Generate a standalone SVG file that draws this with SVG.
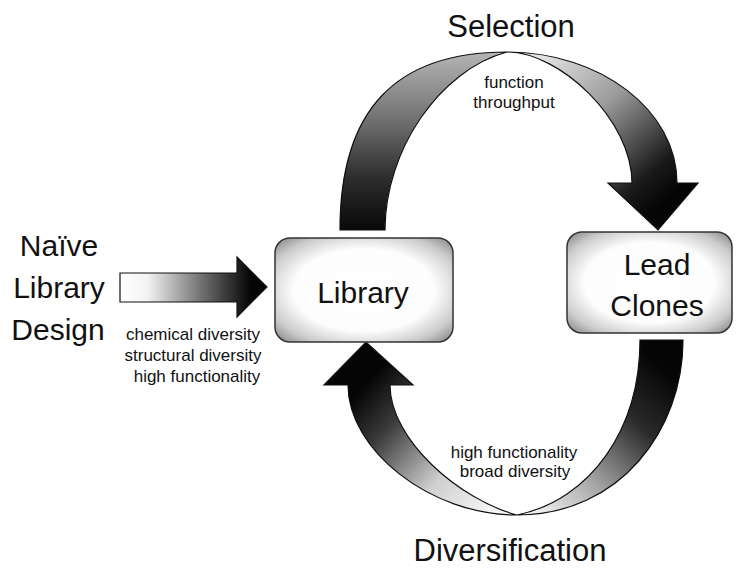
<svg xmlns="http://www.w3.org/2000/svg" width="738" height="569" viewBox="0 0 738 569">
<style>
text{font-family:"Liberation Sans",Arial,sans-serif;fill:#111;text-anchor:middle}
.big{font-size:30px}
.title{font-size:31px}
.small{font-size:17px}
.arrow{stroke:#111;stroke-width:1.2;stroke-linejoin:miter}
.box{fill:url(#boxGrad);stroke:#333;stroke-width:1.5}
</style>
<defs>
<radialGradient id="boxGrad" cx="0.5" cy="0.5" r="0.72">
<stop offset="0" stop-color="#ffffff"/>
<stop offset="0.55" stop-color="#fdfdfd"/>
<stop offset="0.78" stop-color="#cccccc"/>
<stop offset="1" stop-color="#767676"/>
</radialGradient>
<linearGradient id="hGrad" gradientUnits="userSpaceOnUse" x1="122" y1="0" x2="250" y2="0">
<stop offset="0" stop-color="#ffffff"/>
<stop offset="0.2" stop-color="#f2f2f2"/>
<stop offset="0.6" stop-color="#777"/>
<stop offset="1" stop-color="#050505"/>
</linearGradient>
<linearGradient id="selL" gradientUnits="userSpaceOnUse" x1="0" y1="230" x2="0" y2="52">
<stop offset="0" stop-color="#080808"/>
<stop offset="0.3" stop-color="#2e2e2e"/>
<stop offset="0.65" stop-color="#777777"/>
<stop offset="1" stop-color="#b4b4b4"/>
</linearGradient>
<linearGradient id="selR" gradientUnits="userSpaceOnUse" x1="525" y1="55" x2="660" y2="205">
<stop offset="0" stop-color="#eeeeee"/>
<stop offset="0.45" stop-color="#9a9a9a"/>
<stop offset="0.85" stop-color="#1a1a1a"/>
<stop offset="1" stop-color="#050505"/>
</linearGradient>
<linearGradient id="divR" gradientUnits="userSpaceOnUse" x1="665" y1="370" x2="535" y2="512">
<stop offset="0" stop-color="#050505"/>
<stop offset="0.3" stop-color="#2a2a2a"/>
<stop offset="0.7" stop-color="#aaaaaa"/>
<stop offset="1" stop-color="#f2f2f2"/>
</linearGradient>
<linearGradient id="divL" gradientUnits="userSpaceOnUse" x1="495" y1="512" x2="360" y2="390">
<stop offset="0" stop-color="#f8f8f8"/>
<stop offset="0.35" stop-color="#cfcfcf"/>
<stop offset="0.75" stop-color="#3a3a3a"/>
<stop offset="1" stop-color="#050505"/>
</linearGradient>
</defs>
<rect width="738" height="569" fill="#ffffff"/>

<g id="connectors">
<g id="arrow-design">
<path class="arrow" fill="url(#hGrad)" d="M120,273 L237,273 L237,257 L267,287 L237,317 L237,302 L120,302 Z"/>
<text class="small" x="193" y="340">chemical diversity</text>
<text class="small" x="193" y="361">structural diversity</text>
<text class="small" x="197" y="382">high functionality</text>
</g>
<g id="arrow-selection">
<path class="arrow" fill="url(#selL)" d="M340,230 C340,110 395,52 507,52 C440,70 385,150 385,230 Z"/>
<path class="arrow" fill="url(#selR)" d="M507,52 C560,52 632,120 632,183 L608,183 L658,230 L698,183 L677,183 C677,110 600,52 507,52 Z"/>
<text class="title" x="511" y="37">Selection</text>
<text class="small" x="514" y="88">function</text>
<text class="small" x="514" y="108">throughput</text>
</g>
<g id="arrow-diversification">
<path class="arrow" fill="url(#divR)" d="M640,340 L683,340 C683,430 620,515 517,515 C590,500 640,430 640,340 Z"/>
<path class="arrow" fill="url(#divL)" d="M517,515 C430,515 348,450 348,385 L324,385 L366,342 L413,385 L390,385 C390,440 460,500 517,515 Z"/>
<text class="title" x="510" y="561">Diversification</text>
<text class="small" x="514" y="458">high functionality</text>
<text class="small" x="515" y="477">broad diversity</text>
</g>
</g>

<g id="label-naive-library-design">
<text class="big" x="59" y="256">Naïve</text>
<text class="big" x="59" y="298">Library</text>
<text class="big" x="58" y="340">Design</text>
</g>

<g id="node-library">
<rect class="box" x="275" y="238" width="178" height="104" rx="15" ry="15"/>
<text class="big" x="363" y="303">Library</text>
</g>

<g id="node-lead-clones">
<rect class="box" x="567" y="232" width="165" height="101" rx="15" ry="15"/>
<text class="big" x="657" y="275">Lead</text>
<text class="big" x="657" y="316">Clones</text>
</g>
</svg>
